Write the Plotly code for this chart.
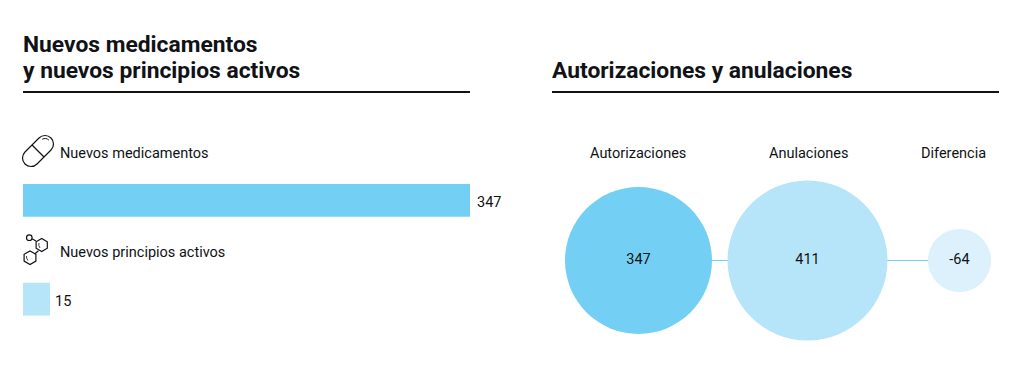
import math
import plotly.graph_objects as go

# ---- data ----
bar_categories = ["Nuevos medicamentos", "Nuevos principios activos"]
bar_lengths = [347, 21]          # bar lengths (second bar is drawn longer than its label)
bar_labels = ["347", "15"]
circle_categories = ["Autorizaciones", "Anulaciones", "Diferencia"]
circle_values = [347, 411, -64]
circle_positions = [86.5, 255.5, 407.5]
circle_label_positions = [85.5, 256.5, 401]

C1, C2, C3 = "#73D0F4", "#B6E4F8", "#DCF1FC"
INK = "#101215"
FONT = "Roboto"
W, H = 1024, 366
LABEL = 14.5
TITLE = 22.8

fig = go.Figure()

# left: horizontal bars
fig.add_trace(go.Bar(
    x=bar_lengths, y=bar_categories, orientation="h", width=0.335,
    marker=dict(color=[C1, C2], line_width=0),
    hoverinfo="skip", xaxis="x", yaxis="y",
))

# right: connector and area-scaled circles
fig.add_trace(go.Scatter(
    x=circle_positions, y=[0, 0, 0], mode="lines",
    line=dict(color=C1, width=1), hoverinfo="skip", xaxis="x2", yaxis="y2",
))
fig.add_trace(go.Scatter(
    x=circle_positions, y=[0, 0, 0], mode="markers+text",
    marker=dict(size=[abs(v) for v in circle_values], sizemode="area",
                sizeref=2 * 347 / 147 ** 2, color=[C1, C2, C3], line_width=0, opacity=1),
    text=[str(v) for v in circle_values], textposition="middle center",
    textfont=dict(family=FONT, size=LABEL, color=INK), cliponaxis=False,
    hoverinfo="skip", xaxis="x2", yaxis="y2",
))

# invisible trace so the pixel-space overlay axes exist
fig.add_trace(go.Scatter(x=[0], y=[0], mode="markers", marker_opacity=0,
                         hoverinfo="skip", xaxis="x3", yaxis="y3"))

def txt(x, y, s, size=LABEL, bold=False, anchor="left"):
    return dict(x=x, y=y, xref="x3", yref="y3", text=f"<b>{s}</b>" if bold else s,
                showarrow=False, xanchor=anchor, yanchor="middle", align=anchor,
                font=dict(family=FONT, size=size, color=INK))

annotations = [
    txt(21, 44, "Nuevos medicamentos", TITLE, True),
    txt(21, 70, "y nuevos principios activos", TITLE, True),
    txt(550, 70, "Autorizaciones y anulaciones", TITLE, True),
    txt(57.5, 153, bar_categories[0]),
    txt(57.5, 252, bar_categories[1]),
]
for name, p in zip(circle_categories, circle_label_positions):
    annotations.append(dict(x=p, y=153, xref="x2", yref="y3", text=name, showarrow=False,
                            xanchor="center", yanchor="middle",
                            font=dict(family=FONT, size=LABEL, color=INK)))
for length, cat, label, shift in zip(bar_lengths, bar_categories, bar_labels, [5, 3]):
    annotations.append(dict(x=length, y=cat, xref="x", yref="y", text=label, showarrow=False,
                            xanchor="left", yanchor="middle", xshift=shift, yshift=-2.5,
                            font=dict(family=FONT, size=LABEL, color=INK)))

def arc(cx, cy, r, a0, a1, move=False):
    """Circular arc as cubic Bezier pieces (angles in degrees, screen coords)."""
    n = max(1, math.ceil(abs(a1 - a0) / 90))
    step = math.radians(a1 - a0) / n
    k = 4 / 3 * math.tan(step / 4)
    a = math.radians(a0)
    out = ""
    if move:
        out += f"M{cx + r * math.cos(a):.2f},{cy + r * math.sin(a):.2f} "
    for _ in range(n):
        b = a + step
        x0, y0 = cx + r * math.cos(a), cy + r * math.sin(a)
        x3, y3 = cx + r * math.cos(b), cy + r * math.sin(b)
        out += (f"C{x0 - k * r * math.sin(a):.2f},{y0 + k * r * math.cos(a):.2f} "
                f"{x3 + k * r * math.sin(b):.2f},{y3 - k * r * math.cos(b):.2f} "
                f"{x3:.2f},{y3:.2f} ")
        a = b
    return out

def shp(path, width=1.2, color=INK):
    return dict(type="path", path=path, xref="x3", yref="y3",
                line=dict(color=color, width=width), layer="above")

def hexagon(cx, cy, r):
    pts = [(cx + r * a, cy + r * b) for a, b in
           [(0.866, -0.5), (0.866, 0.5), (0, 1), (-0.866, 0.5), (-0.866, -0.5), (0, -1)]]
    return "M" + " L".join(f"{x:.1f},{y:.1f}" for x, y in pts) + " Z"

capsule = ("M25,152 L39,138 " + arc(45, 144, 8.5, 225, 405) + "L37,164 " + arc(31, 158, 8.5, 45, 225) + "Z")

shapes = [
    # title rules
    dict(type="line", x0=23, x1=470, y0=92, y1=92, xref="x3", yref="y3",
         line=dict(color=INK, width=2)),
    dict(type="line", x0=552, x1=999, y0=92, y1=92, xref="x3", yref="y3",
         line=dict(color=INK, width=2)),
    # pill icon
    shp(capsule),
    shp("M32,145 L44,157"),
    shp(arc(45, 144, 5.5, 240, 315, move=True), 1),
    # molecule icon
    shp(hexagon(41.7, 245, 6.5)),
    shp(hexagon(30, 257.7, 6.8)),
    shp(arc(29.3, 237.7, 2.8, 0, 360, move=True) + "Z"),
    shp("M32,238.8 L36,241"),
    shp("M38.5,250.8 L34.5,254"),
    shp("M39,243 Q38,245 40,248", 0.8),
    shp("M26.5,256 Q26,258 28,260.5", 0.8),
]

hidden = dict(visible=False, showgrid=False, zeroline=False, fixedrange=True)
fig.update_layout(
    width=W, height=H, margin=dict(l=0, r=0, t=0, b=0),
    paper_bgcolor="white", plot_bgcolor="rgba(0,0,0,0)", showlegend=False,
    annotations=annotations, shapes=shapes,
    xaxis=dict(hidden, domain=[23 / W, 470 / W], range=[0, 347]),
    yaxis=dict(hidden, domain=[1 - 315.75 / H, 1 - 183.75 / H], type="category",
               categoryorder="array", categoryarray=bar_categories, range=[1.1675, -0.1675]),
    xaxis2=dict(hidden, domain=[552 / W, 999 / W], range=[0, 447], anchor="y2"),
    yaxis2=dict(hidden, domain=[0, 1], range=[-105.5, 260.5], anchor="x2"),
    xaxis3=dict(hidden, domain=[0, 1], range=[0, W], anchor="y3"),
    yaxis3=dict(hidden, domain=[0, 1], range=[H, 0], anchor="x3"),
)

fig.write_html("out.html", config=dict(displayModeBar=False),
               post_script="document.body.style.margin='0';document.documentElement.style.overflow='hidden';")
